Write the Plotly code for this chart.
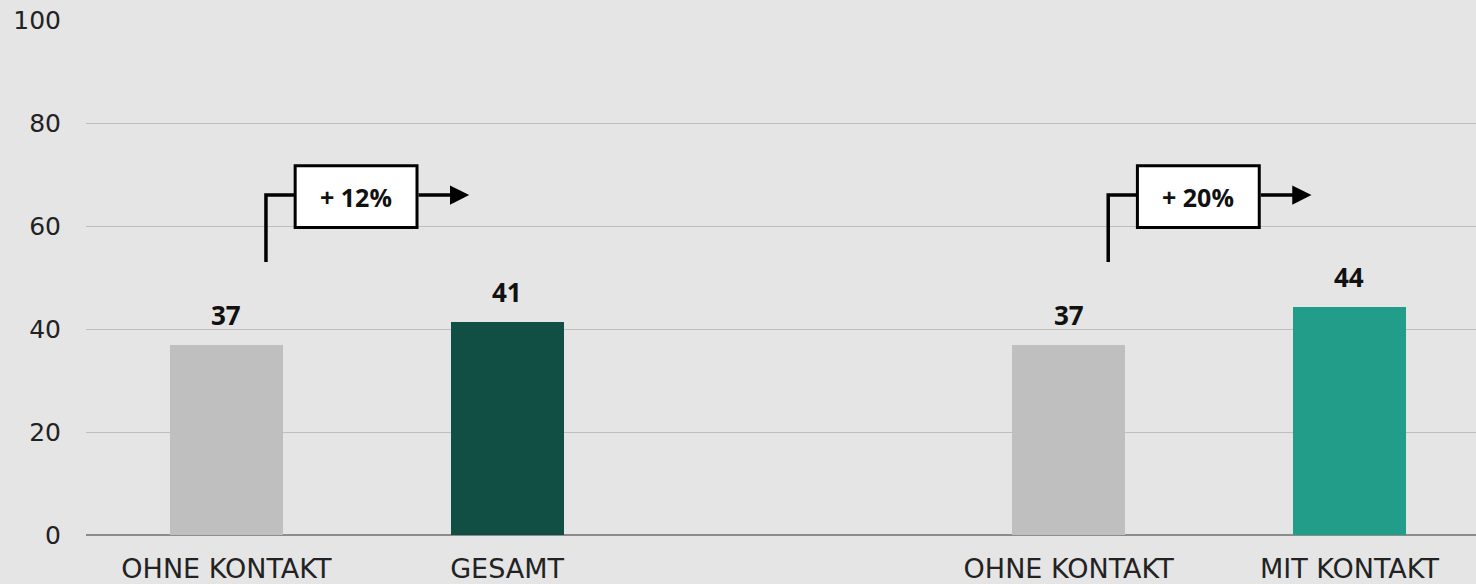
import plotly.graph_objects as go

# Data
categories = ["OHNE KONTAKT", "GESAMT", "OHNE KONTAKT", "MIT KONTAKT"]
slots = [0, 1, 3, 4]          # slot 2 is an empty gap between the two groups
values = [36.9, 41.3, 36.9, 44.3]
value_labels = ["37", "41", "37", "44"]
bar_colors = ["#BFBFBF", "#114F45", "#BFBFBF", "#219D89"]
y_ticks = [0, 20, 40, 60, 80, 100]
comparisons = [(0, 1, "+ 12%"), (2, 3, "+ 20%")]  # indices into the bars

FONT = "Open Sans"
TICK_FONT = "DejaVu Sans"
BG = "#E5E5E5"

fig = go.Figure()
fig.add_trace(go.Bar(
    x=slots, y=values, width=0.4025,
    marker=dict(color=bar_colors, line=dict(width=0)),
    hoverinfo="skip", showlegend=False,
))

# value labels above bars
for s, v, lab in zip(slots, values, value_labels):
    fig.add_annotation(x=s, y=v, text=f"<b>{lab}</b>", showarrow=False,
                       yanchor="bottom", yshift=10,
                       font=dict(family=FONT, size=26, color="#111111"))

# comparison brackets
for a, b, txt in comparisons:
    x0 = slots[a]
    # elbow line
    fig.add_shape(type="path",
                  path=f"M {x0+0.141},53 L {x0+0.141},66 L {x0+0.245},66",
                  line=dict(color="black", width=3.5), layer="above")
    # arrow from box to the right
    fig.add_annotation(x=x0 + 0.865, y=66, ax=x0 + 0.679, ay=66,
                       xref="x", yref="y", axref="x", ayref="y",
                       text="", showarrow=True, arrowhead=2, arrowsize=1.1,
                       arrowwidth=3.5, arrowcolor="black")
    # box with text
    fig.add_shape(type="rect", x0=x0 + 0.245, x1=x0 + 0.679, y0=59.7, y1=71.7,
                  line=dict(color="black", width=3), fillcolor="white", layer="above")
    fig.add_annotation(x=x0 + 0.462, y=65.7, text=f"<b>{txt}</b>", showarrow=False,
                       font=dict(family=FONT, size=25, color="#111111"))

fig.update_layout(
    width=1476, height=584,
    margin=dict(l=86, r=0, t=20, b=49),
    paper_bgcolor=BG, plot_bgcolor=BG,
    font=dict(family=FONT, size=20, color="#111111"),
    bargap=0,
    xaxis=dict(range=[-0.5, 4.451], tickvals=slots, ticktext=categories,
               showgrid=False, zeroline=False, showline=False, ticks="",
               tickfont=dict(family=TICK_FONT, size=27, color="#222222"),
               ticklabelstandoff=15),
    yaxis=dict(range=[0, 100], tickvals=y_ticks, showgrid=True,
               gridcolor="#BEBEBE", gridwidth=1, zeroline=True,
               zerolinecolor="#8C8C8C", zerolinewidth=2, showline=False,
               ticks="", tickfont=dict(family=TICK_FONT, size=25, color="#222222"),
               ticklabelstandoff=24),
)

fig.write_html(
    "out.html",
    config={"displayModeBar": False},
    post_script="document.body.style.margin='0';document.body.style.background='#E5E5E5';",
)
